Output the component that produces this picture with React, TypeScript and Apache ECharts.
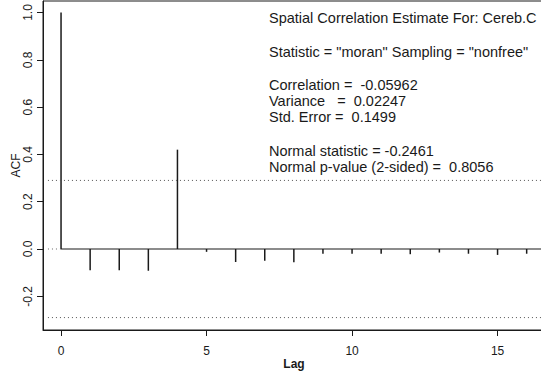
import React, { useEffect, useRef } from "react";
import * as echarts from "echarts";

const lags = [0, 1, 2, 3, 4, 5, 6, 7, 8, 9, 10, 11, 12, 13, 14, 15, 16];
const acfValues = [1.0, -0.09, -0.09, -0.092, 0.42, -0.012, -0.055, -0.05, -0.056, -0.02, -0.02, -0.02, -0.022, -0.015, -0.02, -0.025, -0.02];
const bound = 0.29;
const xTicks = [0, 5, 10, 15];
const yTicks = [-0.2, 0, 0.2, 0.4, 0.6, 0.8, 1.0];
const NB = "\u00a0";
const infoLines = [
  { text: "Spatial Correlation Estimate For: Cereb.C", y: 18 },
  { text: 'Statistic = "moran" Sampling = "nonfree"', y: 52 },
  { text: `Correlation${NB}=${NB}${NB}-0.05962`, y: 85 },
  { text: `Variance${NB}${NB}${NB}=${NB}${NB}0.02247`, y: 101 },
  { text: `Std. Error${NB}=${NB}${NB}0.1499`, y: 117 },
  { text: `Normal statistic${NB}=${NB}-0.2461`, y: 151 },
  { text: `Normal p-value (2-sided)${NB}=${NB}${NB}0.8056`, y: 167 },
];

const FONT = '"Liberation Sans", Arial, sans-serif';
const INK = "#1a1a1a";

export default function App() {
  const ref = useRef<HTMLDivElement>(null);
  useEffect(() => {
    if (!ref.current) return;
    const chart = echarts.init(ref.current, null, { renderer: "svg" });
    const xMin = -0.62;
    const xMax = 16.63;
    chart.setOption({
      animation: false,
      backgroundColor: "#ffffff",
      grid: {
        left: 43,
        top: 1,
        width: 502,
        height: 329,
        show: true,
        borderColor: INK,
        borderWidth: 1,
        containLabel: false,
        outerBoundsMode: "none",
      },
      xAxis: {
        type: "value",
        min: xMin,
        max: xMax,
        name: "Lag",
        nameLocation: "middle",
        nameGap: 28,
        nameMoveOverlap: false,
        nameTextStyle: { fontFamily: FONT, fontSize: 12, color: INK, fontWeight: "bold" },
        axisLine: { show: true, onZero: false, lineStyle: { color: INK, width: 1 } },
        axisTick: { show: true, length: 6, customValues: xTicks, lineStyle: { color: INK } },
        axisLabel: { customValues: xTicks, margin: 15, fontFamily: FONT, fontSize: 12, color: INK },
        splitLine: { show: false },
      },
      yAxis: {
        type: "value",
        min: -0.3425,
        max: 1.0486,
        name: "ACF",
        nameLocation: "middle",
        nameRotate: 90,
        nameGap: 21,
        nameMoveOverlap: false,
        nameTextStyle: { fontFamily: FONT, fontSize: 12, color: INK },
        axisLine: { show: true, onZero: false, lineStyle: { color: INK, width: 1 } },
        axisTick: { show: true, length: 6, customValues: yTicks, lineStyle: { color: INK } },
        axisLabel: {
          customValues: yTicks,
          rotate: 90,
          align: "center",
          verticalAlign: "middle",
          margin: 15,
          fontFamily: FONT,
          fontSize: 12,
          color: INK,
          formatter: (v: number) => v.toFixed(1),
        },
        splitLine: { show: false },
      },
      series: [
        {
          type: "line",
          data: [[0, 0], [xMax, 0]],
          symbol: "none",
          lineStyle: { color: INK, width: 1.2 },
          silent: true,
        },
        {
          type: "line",
          data: [[-0.45, 0], [0, 0]],
          symbol: "none",
          lineStyle: { color: "#666", width: 1, type: [1, 3] },
          silent: true,
        },
        {
          type: "line",
          data: [[-0.45, bound], [xMax, bound]],
          symbol: "none",
          lineStyle: { color: "#555", width: 1, type: [1, 3] },
          silent: true,
        },
        {
          type: "line",
          data: [[-0.45, -bound], [xMax, -bound]],
          symbol: "none",
          lineStyle: { color: "#555", width: 1, type: [1, 3] },
          silent: true,
        },
        {
          type: "custom",
          data: lags.map((l, i) => [l, acfValues[i]]),
          renderItem: (params: any, api: any) => {
            const p0 = api.coord([api.value(0), 0]);
            const p1 = api.coord([api.value(0), api.value(1)]);
            return {
              type: "line",
              shape: { x1: p0[0], y1: p0[1], x2: p1[0], y2: p1[1] },
              style: { stroke: INK, lineWidth: 1.5 },
            };
          },
          silent: true,
        },
      ],
      graphic: infoLines.map((l) => ({
        type: "text",
        x: 269,
        y: l.y,
        style: {
          text: l.text,
          font: `14.5px ${FONT}`,
          fill: INK,
          verticalAlign: "middle",
        },
      })),
    });
    return () => chart.dispose();
  }, []);
  return (
    <div
      ref={ref}
      style={{ position: "absolute", left: 0, top: 0, width: 541, height: 373 }}
    />
  );
}
